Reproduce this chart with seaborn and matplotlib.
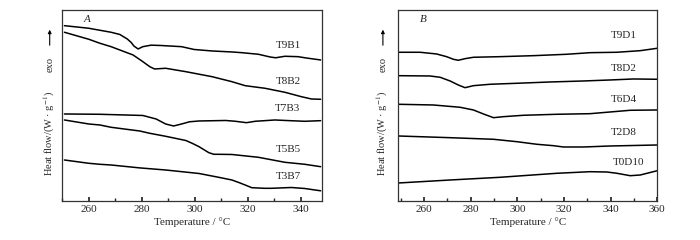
import numpy as np
import pandas as pd
import seaborn as sns
import matplotlib.pyplot as plt
from matplotlib.ticker import MultipleLocator

# DSC curves, y = offset heat-flow position (arbitrary units, larger = lower on plot)
# Panel A
t9b1_T = [250.8, 260, 264.2, 268.4, 271.7, 274.5, 276, 277, 278.6, 280.4, 283.5, 287, 295, 299.7, 306.5, 314, 317.7, 324, 328.4, 330.5, 334, 339, 342, 347.5]
t9b1_y = [25.7, 28.3, 30.3, 32.3, 34.5, 39.0, 42.5, 46.0, 49.0, 46.7, 45.2, 45.5, 46.7, 49.5, 51.0, 52.0, 52.7, 54.3, 57.0, 57.8, 56.3, 56.7, 58.0, 60.0]
t8b2_T = [250.8, 260, 264.2, 268.4, 271.7, 276.7, 280.4, 283, 284.8, 289, 296.6, 306.5, 314, 319, 326.5, 334, 340.2, 344, 347.5]
t8b2_y = [32.3, 39.3, 43.3, 46.7, 50.0, 55.0, 61.7, 66.7, 69.0, 68.3, 71.7, 76.7, 81.7, 85.7, 88.3, 92.3, 96.7, 99.0, 99.3]
t7b3_T = [250.8, 264.2, 280.4, 285.4, 289, 292, 295.3, 298, 301.6, 311.6, 315, 319.5, 322.8, 330.2, 336, 341.5, 347.5]
t7b3_y = [114.0, 114.3, 115.5, 119.0, 124.0, 126.0, 123.8, 121.8, 121.0, 120.5, 121.2, 122.7, 121.3, 120.0, 120.7, 121.3, 120.7]
t5b5_T = [250.8, 260, 264.2, 268.4, 279.2, 283, 289, 296.6, 299, 301.6, 305.3, 307.2, 309, 314, 324, 334, 341.5, 347.5]
t5b5_y = [120.0, 124.0, 125.0, 127.3, 131.0, 133.3, 136.3, 140.5, 143.3, 146.7, 152.7, 154.3, 154.3, 154.5, 157.3, 162.3, 164.3, 166.7]
t3b7_T = [250.8, 260, 264.2, 268.4, 279.2, 289, 301.6, 309, 314, 316.6, 319, 321.5, 326.2, 329, 336.4, 341.5, 347.5]
t3b7_y = [160.0, 163.3, 164.3, 165.0, 167.9, 170.0, 173.5, 177.3, 180.0, 182.5, 185.0, 187.7, 188.3, 188.3, 187.5, 188.5, 190.8]

# Panel B
t9d1_T = [249, 258.3, 265.4, 269.7, 272.6, 274.7, 277.6, 281.2, 292.6, 306.9, 321.2, 331.2, 342.7, 352.7, 360]
t9d1_y = [52.3, 52.3, 54.0, 56.7, 59.3, 60.3, 58.7, 57.3, 56.7, 55.7, 54.3, 52.7, 52.3, 50.7, 48.3]
t8d2_T = [249, 262.6, 266.9, 271.2, 274.7, 277.6, 281.2, 288.3, 299.8, 314.1, 328.4, 339.8, 349.8, 360]
t8d2_y = [75.7, 76.0, 77.3, 81.0, 85.0, 87.7, 85.7, 84.3, 83.3, 82.0, 81.0, 80.0, 79.0, 79.3]
t6d4_T = [249, 264, 275.5, 281.2, 285.5, 289.8, 294, 302.6, 316.9, 331.2, 339.8, 348.4, 360]
t6d4_y = [104.3, 105.0, 107.3, 110.0, 114.0, 117.7, 116.7, 115.3, 114.3, 113.7, 112.0, 110.3, 110.0]
t2d8_T = [249, 271.2, 289.8, 299.8, 308.4, 315.5, 319.8, 328.4, 339.8, 360]
t2d8_y = [136.0, 137.7, 139.3, 141.7, 144.3, 145.7, 147.0, 147.0, 146.0, 145.0]
t0d10_T = [249, 271.2, 292.6, 316.9, 331.2, 338.4, 342.7, 348.4, 352.7, 360]
t0d10_y = [183.0, 180.0, 177.3, 173.3, 171.7, 172.0, 173.3, 175.7, 175.0, 170.7]

panel_a = {"T9B1": (t9b1_T, t9b1_y), "T8B2": (t8b2_T, t8b2_y), "T7B3": (t7b3_T, t7b3_y),
           "T5B5": (t5b5_T, t5b5_y), "T3B7": (t3b7_T, t3b7_y)}
panel_b = {"T9D1": (t9d1_T, t9d1_y), "T8D2": (t8d2_T, t8d2_y), "T6D4": (t6d4_T, t6d4_y),
           "T2D8": (t2d8_T, t2d8_y), "T0D10": (t0d10_T, t0d10_y)}

# label positions (T, y)
labels_a = {"T9B1": (335.4, 45.7), "T8B2": (335.4, 81.7), "T7B3": (335.0, 108.3),
            "T5B5": (335.4, 150.0), "T3B7": (335.4, 176.7)}
labels_b = {"T9D1": (345.5, 36.0), "T8D2": (345.5, 68.3), "T6D4": (345.5, 99.3),
            "T2D8": (345.5, 132.3), "T0D10": (347.7, 162.7)}

sns.set_theme(style="ticks")
plt.rcParams["font.family"] = ["Liberation Serif", "DejaVu Sans"]
plt.rcParams["mathtext.fontset"] = "stix"
plt.rcParams["axes.edgecolor"] = "#333333"

fig = plt.figure(figsize=(7, 2.4), dpi=100)
ax_a = fig.add_axes([0.089, 0.1625, 0.371, 0.796])
ax_b = fig.add_axes([0.569, 0.1625, 0.370, 0.796])


def draw_panel(ax, curves, labels, xlim, letter, letter_x, label_x):
    rows = []
    for name, (T, y) in curves.items():
        rows.append(pd.DataFrame({"T": T, "y": y, "sample": name}))
    df = pd.concat(rows, ignore_index=True)
    sns.lineplot(data=df, x="T", y="y", units="sample", estimator=None,
                 color="black", linewidth=1.1, sort=False, ax=ax)
    for name, (tx, ty) in labels.items():
        ax.text(tx, ty, name, ha="center", va="center", fontsize=8)
    ax.text(letter_x, 20, letter, style="italic", fontsize=8, ha="center", va="center")
    ax.set_xlim(*xlim)
    ax.set_ylim(201, 10)
    ax.set_yticks([])
    ax.set_ylabel("")
    ax.xaxis.set_major_locator(MultipleLocator(20))
    ax.xaxis.set_minor_locator(MultipleLocator(10))
    ax.tick_params(axis="x", which="major", direction="in", length=3, labelsize=8, pad=3)
    ax.tick_params(axis="x", which="minor", direction="in", length=2)
    ax.set_xlabel("Temperature / °C", fontsize=8, labelpad=2)
    for s in ax.spines.values():
        s.set_linewidth(0.9)
    # y label pieces: text, "exo" and an upward arrow
    fig.text(label_x, 0.446, "Heat flow/(W · g$^{-1}$)", rotation=90,
             ha="center", va="center", fontsize=7.5)
    fig.text(label_x, 0.733, "exo", rotation=90, ha="center", va="center", fontsize=7.5)
    fig.add_artist(plt.Annotation("", xy=(label_x, 0.888), xytext=(label_x, 0.80),
                                  xycoords="figure fraction", textcoords="figure fraction",
                                  arrowprops=dict(arrowstyle="-|>", color="black", lw=0.8,
                                                  mutation_scale=5)))


draw_panel(ax_a, panel_a, labels_a, (250, 348), "A", 259.3, 0.071)
draw_panel(ax_b, panel_b, labels_b, (249, 360), "B", 259.5, 0.547)

fig.savefig("out.png", dpi=100)
